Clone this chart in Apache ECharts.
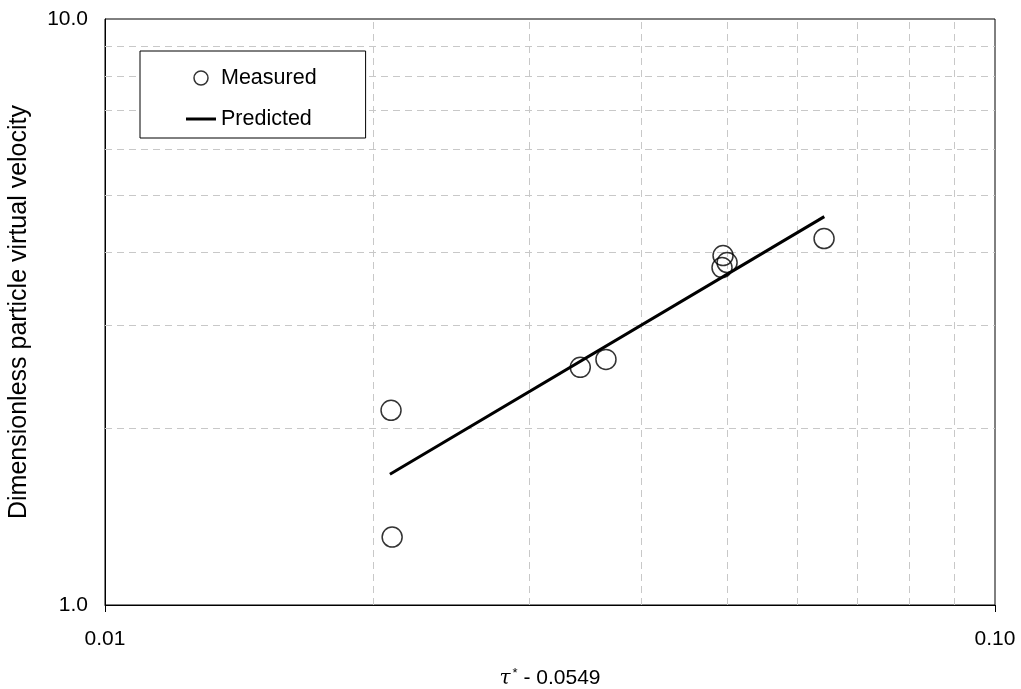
<!DOCTYPE html>
<html>
<head>
<meta charset="utf-8">
<title>Particle virtual velocity</title>
<script src="https://cdn.jsdelivr.net/npm/echarts@6/dist/echarts.min.js"></script>
<style>
  html, body { margin: 0; padding: 0; background: #fff; }
  #chart { width: 1021px; height: 689px; }
</style>
</head>
<body>
<div id="chart"></div>
<script>
// Excess shear stress (tau* - 0.0549) vs dimensionless particle virtual velocity
const measuredX = [0.02096, 0.02102, 0.0342, 0.03655, 0.04948, 0.0500, 0.04935, 0.06426];
const measuredY = [2.149, 1.306, 2.544, 2.625, 3.947, 3.84, 3.765, 4.22];

// Fitted power-law line, end points
const predictedX = [0.0209, 0.0643];
const predictedY = [1.672, 4.60];

// Minor gridline positions on the log axes
const xMinorGrid = [0.02, 0.03, 0.04, 0.05, 0.06, 0.07, 0.08, 0.09];
const yMinorGrid = [2, 3, 4, 5, 6, 7, 8, 9];

const FONT = "'Liberation Sans', Arial, sans-serif";
const gridStyle = { color: '#c8c8c8', width: 1, type: [7, 5] };

const chart = echarts.init(document.getElementById('chart'), null, { renderer: 'canvas' });

const minorLines = xMinorGrid.map(v => ({ xAxis: v }))
  .concat(yMinorGrid.map(v => ({ yAxis: v })));

chart.setOption({
  animation: false,
  backgroundColor: '#fff',
  textStyle: { fontFamily: FONT, color: '#000' },
  grid: {
    left: 105, right: 26, top: 19, bottom: 84,
    outerBoundsMode: 'none',
    containLabel: false,
    show: true, borderColor: '#000', borderWidth: 1, backgroundColor: 'transparent'
  },
  legend: {
    orient: 'vertical',
    left: 140, top: 51,
    padding: [16, 49, 8, 46],
    itemGap: 19,
    itemWidth: 30, itemHeight: 14,
    backgroundColor: '#fff',
    borderColor: '#000', borderWidth: 1,
    textStyle: { fontFamily: FONT, fontSize: 21.5, color: '#000' },
    data: [
      { name: 'Measured', icon: 'circle',
        itemStyle: { color: '#fff', borderColor: '#000', borderWidth: 1.5 } },
      { name: 'Predicted', icon: 'path://M0,0H30V3H0Z',
        itemStyle: { color: '#000', borderWidth: 0 } }
    ]
  },
  xAxis: {
    type: 'log', logBase: 10, min: 0.01, max: 0.1,
    name: '{t|τ}{s|*}{n| - 0.0549}',
    nameLocation: 'middle', nameGap: 62,
    nameTextStyle: {
      rich: {
        t: { fontFamily: "'DejaVu Serif', 'Liberation Serif', serif", fontStyle: 'italic', fontSize: 20, color: '#000' },
        s: { fontFamily: FONT, fontSize: 13, color: '#000', verticalAlign: 'top', padding: [0, 0, 10, 2] },
        n: { fontFamily: FONT, fontSize: 21, color: '#000' }
      }
    },
    axisLine: { show: true, onZero: false, lineStyle: { color: '#000', width: 1 } },
    axisTick: { show: true, inside: false, length: 7, lineStyle: { color: '#000' } },
    axisLabel: { fontFamily: FONT, fontSize: 21, color: '#000', margin: 24,
      formatter: v => v.toFixed(2) },
    splitLine: { show: false }
  },
  yAxis: {
    type: 'log', logBase: 10, min: 1, max: 10,
    name: 'Dimensionless particle virtual velocity',
    nameLocation: 'middle', nameGap: 73,
    nameTextStyle: { fontFamily: FONT, fontSize: 25, color: '#000' },
    axisLine: { show: true, onZero: false, lineStyle: { color: '#000', width: 1 } },
    axisTick: { show: false },
    axisLabel: { fontFamily: FONT, fontSize: 21, color: '#000', margin: 17,
      formatter: v => v.toFixed(1) },
    splitLine: { show: false }
  },
  series: [
    {
      name: 'Measured',
      type: 'scatter',
      symbol: 'circle',
      symbolSize: 20,
      itemStyle: { color: 'rgba(255,255,255,0)', borderColor: '#000', borderWidth: 1.5 },
      data: measuredX.map((x, i) => [x, measuredY[i]]),
      z: 3,
      markLine: {
        silent: true,
        symbol: 'none',
        label: { show: false },
        lineStyle: gridStyle,
        emphasis: { disabled: true },
        data: minorLines,
        z: 1
      }
    },
    {
      name: 'Predicted',
      type: 'line',
      symbol: 'none',
      lineStyle: { color: '#000', width: 3 },
      itemStyle: { color: '#000' },
      data: predictedX.map((x, i) => [x, predictedY[i]]),
      z: 4
    }
  ]
});
</script>
</body>
</html>
